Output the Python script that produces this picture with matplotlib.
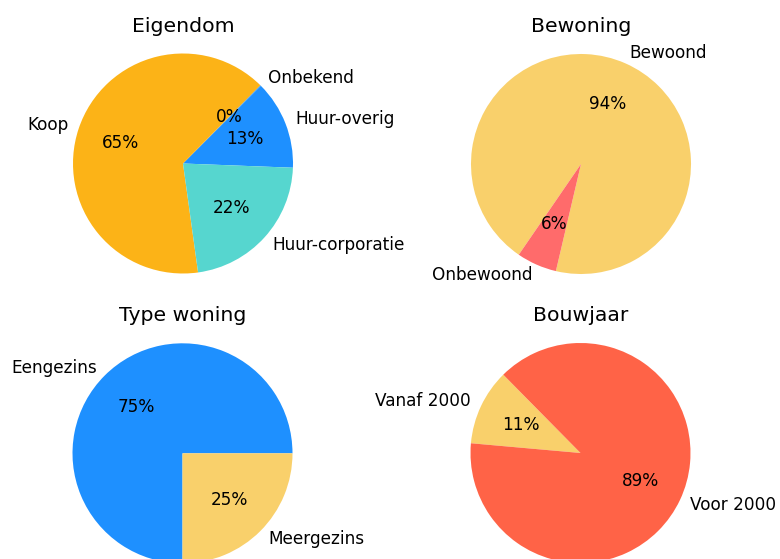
import matplotlib
matplotlib.use("Agg")
import matplotlib.pyplot as plt

# Eigendom
eig_labels = ["Huur-overig", "Onbekend", "Koop", "Huur-corporatie"]
eig_values = [13.1, 0.1, 64.6, 22.2]
eig_colors = ["#1E90FF", "#1E90FF", "#FCB317", "#56D6CF"]

# Bewoning
bew_labels = ["Bewoond", "Onbewoond"]
bew_values = [94.1, 5.9]
bew_colors = ["#F9D06B", "#FF6B6B"]

# Type woning
type_labels = ["Eengezins", "Meergezins"]
type_values = [75, 25]
type_colors = ["#1E90FF", "#F9D06B"]

# Bouwjaar
bouw_labels = ["Vanaf 2000", "Voor 2000"]
bouw_values = [11.2, 88.8]
bouw_colors = ["#F9D06B", "#FF6347"]

W, H = 780, 559
fig = plt.figure(figsize=(W / 100, H / 100), dpi=100)

def pie_axes(cx, cy, r):
    # square axes so that the pie (limits +-1.25) has radius r pixels
    s = 2.5 * r
    return fig.add_axes([(cx - s / 2) / W, (H - cy - s / 2) / H, s / W, s / H])

charts = [
    ("Eigendom", eig_labels, eig_values, eig_colors, -2.2, (183, 163.5)),
    ("Bewoning", bew_labels, bew_values, bew_colors, 256.8, (581, 164)),
    ("Type woning", type_labels, type_values, type_colors, 0, (182.5, 453.3)),
    ("Bouwjaar", bouw_labels, bouw_values, bouw_colors, 134.6, (580.5, 453)),
]

for title, labels, values, colors, start, (cx, cy) in charts:
    ax = pie_axes(cx, cy, 110)
    ax.pie(values, labels=labels, colors=colors, autopct='%1.0f%%',
           startangle=start, textprops={'fontsize': 12.2})
    ax.set_title(title, fontsize=14.7, pad=0, y=0.98)

fig.savefig("out.png", dpi=100)
